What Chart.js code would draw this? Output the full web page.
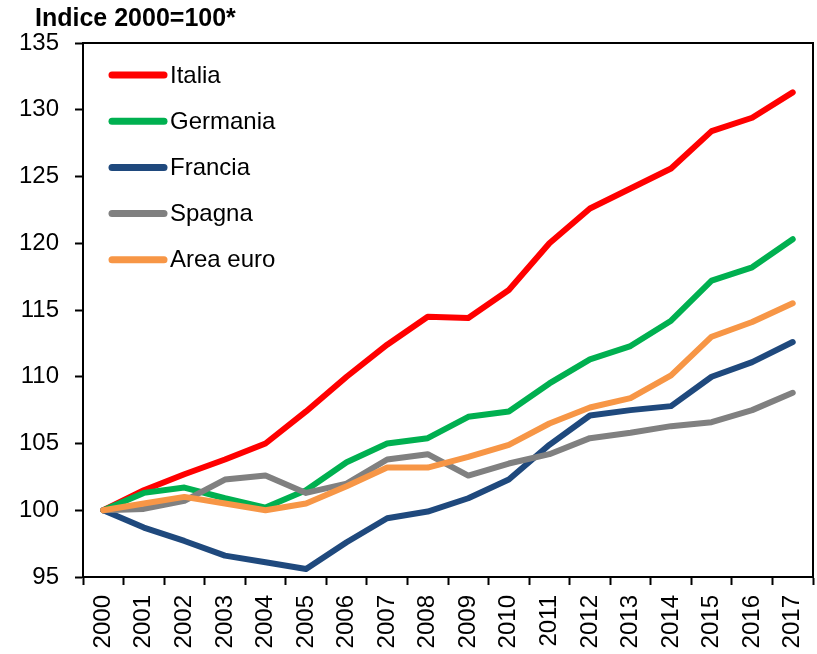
<!DOCTYPE html>
<html>
<head>
<meta charset="utf-8">
<script src="https://cdn.jsdelivr.net/npm/chart.js@4/dist/chart.umd.min.js"></script>
<style>
  html, body { margin: 0; padding: 0; background: #fff; }
  #wrap { width: 817px; height: 654px; }
</style>
</head>
<body>
<div id="wrap"><canvas id="grafico" width="817" height="654"></canvas></div>
<script>
// dati
const anni = ['2000','2001','2002','2003','2004','2005','2006','2007','2008','2009','2010','2011','2012','2013','2014','2015','2016','2017'];
const italia   = [100, 101.5, 102.7, 103.8, 105.0, 107.4, 110.0, 112.4, 114.5, 114.4, 116.5, 120.0, 122.6, 124.1, 125.6, 128.4, 129.4, 131.3];
const germania = [100, 101.3, 101.7, 100.9, 100.2, 101.5, 103.6, 105.0, 105.4, 107.0, 107.4, 109.5, 111.3, 112.3, 114.2, 117.2, 118.2, 120.3];
const francia  = [100,  98.7,  97.7,  96.6,  96.1,  95.6,  97.6,  99.4,  99.9, 100.9, 102.3, 104.9, 107.1, 107.5, 107.8, 110.0, 111.1, 112.6];
const spagna   = [100, 100.1, 100.7, 102.3, 102.6, 101.3, 102.0, 103.8, 104.2, 102.6, 103.5, 104.2, 105.4, 105.8, 106.3, 106.6, 107.5, 108.8];
const areaEuro = [100, 100.5, 101.0, 100.5, 100.0, 100.5, 101.8, 103.2, 103.2, 104.0, 104.9, 106.5, 107.7, 108.4, 110.1, 113.0, 114.1, 115.5];
const yTicks = [95, 100, 105, 110, 115, 120, 125, 130, 135];
const titolo = 'Indice 2000=100*';

const FONT = "'Liberation Sans', Arial, sans-serif";

function serie(label, data, colore, ordine){
    return {
        label: label,
        data: data,
        borderColor: colore,
        backgroundColor: colore,
        borderWidth: 6,
        pointRadius: 0,
        pointHoverRadius: 0,
        tension: 0,
        borderCapStyle: 'round',
        borderJoinStyle: 'round',
        order: ordine
    };
}

// titolo, legenda e cornice disegnati a mano
const decorazioni = {
    id: 'decorazioni',
    afterDraw(chart){
        const ctx = chart.ctx;
        const a = chart.chartArea;
        ctx.save();
        // cornice sopra e a destra
        ctx.strokeStyle = '#000';
        ctx.lineWidth = 2;
        ctx.beginPath();
        ctx.moveTo(a.left, a.top);
        ctx.lineTo(a.right, a.top);
        ctx.lineTo(a.right, a.bottom);
        ctx.stroke();
        // titolo
        ctx.fillStyle = '#000';
        ctx.font = "bold 25px " + FONT;
        ctx.textBaseline = 'alphabetic';
        ctx.textAlign = 'left';
        ctx.fillText(titolo, 35, 26);
        // legenda
        ctx.font = "24px " + FONT;
        ctx.textBaseline = 'middle';
        chart.data.datasets.forEach(function(ds, i){
            let y = 75 + i * 46.2;
            ctx.strokeStyle = ds.borderColor;
            ctx.lineWidth = 7;
            ctx.lineCap = 'round';
            ctx.beginPath();
            ctx.moveTo(112, y);
            ctx.lineTo(164, y);
            ctx.stroke();
            ctx.fillStyle = '#000';
            ctx.fillText(ds.label, 170, y + 1);
        });
        ctx.restore();
    }
};

const ctx = document.getElementById('grafico').getContext('2d');
const grafico = new Chart(ctx, {
    type: 'line',
    data: {
        labels: anni,
        datasets: [
            serie('Italia', italia, '#FF0000', 4),
            serie('Germania', germania, '#00B050', 3),
            serie('Francia', francia, '#1F497D', 2),
            serie('Spagna', spagna, '#808080', 1),
            serie('Area euro', areaEuro, '#F79646', 0)
        ]
    },
    options: {
        responsive: false,
        animation: false,
        events: [],
        layout: { padding: { left: 0, top: 43, right: 4, bottom: 0 } },
        plugins: {
            legend: { display: false },
            title: { display: false },
            tooltip: { enabled: false }
        },
        scales: {
            x: {
                offset: true,
                grid: {
                    display: true, drawOnChartArea: false, drawTicks: true,
                    tickLength: 8, tickWidth: 2, tickColor: '#000', offset: true
                },
                border: { display: true, color: '#000', width: 2 },
                ticks: {
                    color: '#000', font: { family: FONT, size: 24 },
                    minRotation: 90, maxRotation: 90, padding: 10, autoSkip: false
                },
                afterFit(scale){
                    scale.height = 77;
                    scale.paddingLeft = 0;
                    scale.paddingRight = 0;
                }
            },
            y: {
                min: 95, max: 135,
                afterBuildTicks(scale){
                    scale.ticks = yTicks.map(v => ({ value: v }));
                },
                grid: {
                    display: true, drawOnChartArea: false, drawTicks: true,
                    tickLength: 8, tickWidth: 2, tickColor: '#000'
                },
                border: { display: true, color: '#000', width: 2 },
                ticks: {
                    color: '#000', font: { family: FONT, size: 24 }, padding: 16
                },
                afterFit(scale){
                    scale.width = 83;
                }
            }
        }
    },
    plugins: [decorazioni]
});
</script>
</body>
</html>
